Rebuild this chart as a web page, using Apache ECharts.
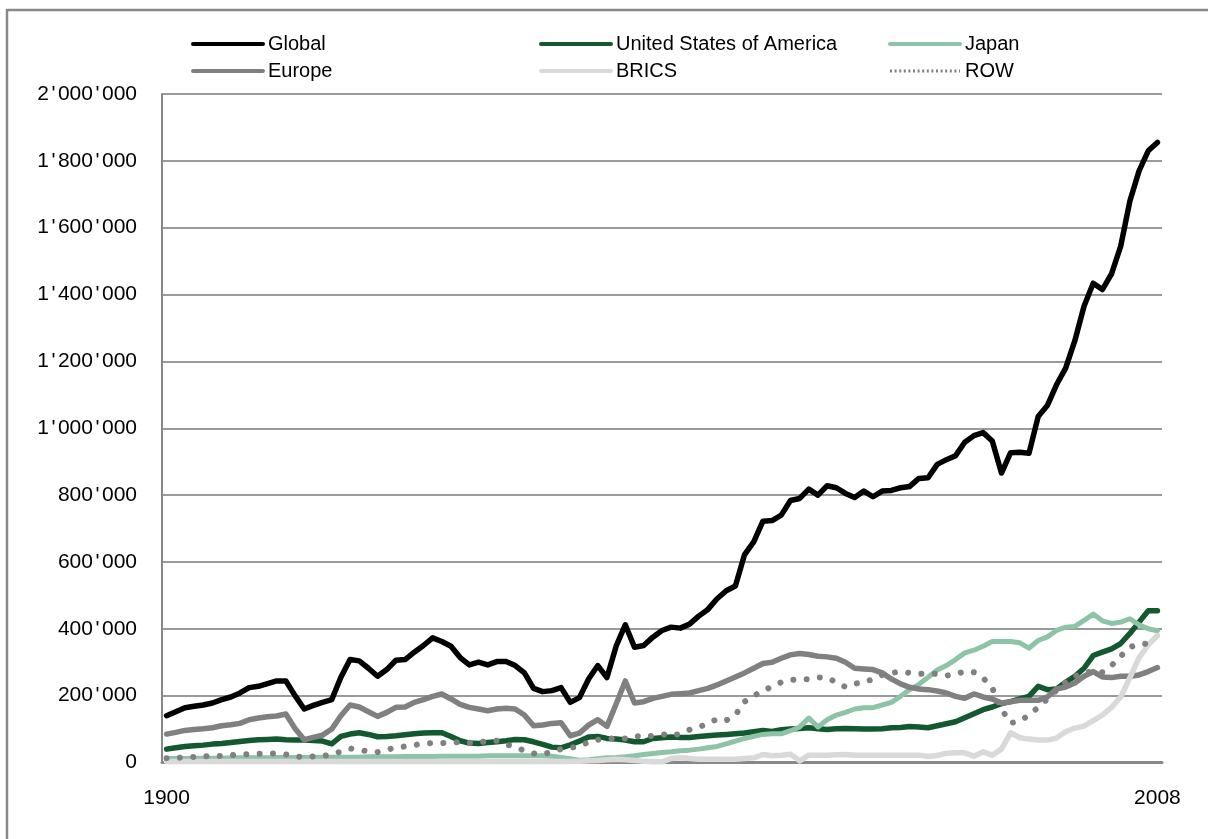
<!DOCTYPE html>
<html>
<head>
<meta charset="utf-8">
<script src="https://cdn.jsdelivr.net/npm/echarts@6/dist/echarts.min.js"></script>
<style>
html,body{margin:0;padding:0;background:#fff;}
#chart{width:1208px;height:839px;}
</style>
</head>
<body>
<div id="chart"></div>
<script>
// Years 1900..2008 (category labels)
const startYear = 1900, endYear = 2008;
const years = [];
for (let y = startYear; y <= endYear; y++) years.push(String(y));

// Values in thousands
const globalVals = [140,152,164,168,172,178,188,196,208,224,
  228,236,244,244,200,160,171,180,188,255,
  308,304,282,258,278,306,308,330,350,373,
  362,348,314,292,300,292,302,302,290,268,
  222,212,215,224,180,194,250,290,254,348,
  412,345,350,375,395,405,402,414,438,458,
  490,514,528,622,660,722,724,740,784,790,
  818,800,828,822,805,793,812,795,812,814,
  822,826,850,852,892,906,918,958,978,987,
  962,866,927,928,925,1035,1068,1130,1180,1262,
  1365,1434,1415,1462,1545,1680,1770,1830,1855];

const usaVals = [40,44,48,50,52,55,57,60,63,66,
  68,69,70,68,67,67,66,64,56,78,
  85,89,84,77,78,80,83,86,88,89,
  89,78,65,58,57,60,62,65,69,68,
  62,54,46,44,53,64,76,78,72,70,
  67,62,62,72,74,76,75,75,78,80,
  82,84,86,88,92,96,93,98,100,102,
  104,101,99,101,102,101,100,100,101,104,
  105,108,106,104,110,116,122,134,146,158,
  166,176,182,190,198,228,218,220,240,258,
  282,320,330,340,356,386,420,454,454];

const japanVals = [12,12,12,13,13,13,13,14,14,14,
  14,14,15,15,15,15,15,16,16,16,
  16,16,17,17,17,17,18,18,18,18,
  19,19,19,19,19,20,20,20,20,20,
  20,20,19,15,11,7,8,11,14,15,
  17,20,24,27,30,32,35,37,40,44,
  48,56,64,72,78,84,86,86,95,106,
  133,106,128,142,150,160,164,164,172,180,
  198,218,234,255,277,290,308,328,336,348,
  362,362,362,358,342,365,376,395,405,407,
  425,444,424,416,420,430,412,400,394];

const europeVals = [85,90,96,99,101,104,110,113,117,128,
  133,137,139,145,102,68,75,82,100,140,
  172,166,152,138,150,165,166,180,188,198,
  205,190,174,165,160,155,160,162,160,142,
  110,112,117,119,80,88,112,128,108,175,
  244,178,182,192,198,204,206,208,215,222,
  232,244,256,268,282,296,300,312,322,326,
  323,318,316,312,300,282,280,278,268,250,
  235,225,220,218,214,208,198,192,205,196,
  190,178,182,186,186,186,196,220,226,238,
  258,272,256,254,258,258,262,272,284];

const bricsVals = [3,3,3,3,3,3,3,3,3,3,
  3,3,3,3,3,3,3,3,3,3,
  3,3,3,3,3,3,3,3,3,3,
  3,3,3,3,3,3,3,3,3,3,
  3,3,3,3,3,4,5,6,8,10,
  8,6,4,2,2,12,14,12,10,10,
  10,10,10,12,14,24,20,22,25,5,
  22,22,22,23,24,22,22,22,22,22,
  22,22,22,18,21,28,29,29,19,32,
  22,40,89,74,70,67,67,73,92,103,
  109,125,142,165,196,254,314,352,380];

const rowVals = [13,14,15,17,18,19,20,22,24,25,
  26,27,27,24,18,16,18,20,23,33,
  42,38,33,31,38,45,48,52,57,58,
  58,60,61,59,61,63,65,54,47,35,
  27,24,32,40,44,48,62,68,72,72,
  72,80,76,80,85,80,86,98,106,116,
  130,126,142,182,199,216,226,240,247,249,
  249,254,254,240,226,236,239,250,262,268,
  272,268,265,266,265,260,264,273,270,253,
  223,160,118,124,142,165,190,216,240,258,
  270,272,270,290,318,345,354,356,360];

const UNIT = 1000;
const yTicks = { min: 0, max: 2000000, interval: 200000 };

function fmt(v) {
  return String(v).replace(/\B(?=(\d{3})+(?!\d))/g, "{q|'}");
}

const FONT = "'Liberation Sans', Arial, sans-serif";

function mk(name, vals, color, width, extra) {
  return Object.assign({
    name: name,
    type: 'line',
    data: vals.map(v => v * UNIT),
    symbol: 'none',
    showSymbol: false,
    smooth: false,
    animation: false,
    lineStyle: { color: color, width: width, join: 'round', cap: 'round' },
    itemStyle: { color: color }
  }, extra || {});
}

const series = [
  mk('Global', globalVals, '#000000', 5.5),
  mk('United States of America', usaVals, '#13592f', 5.5),
  mk('Japan', japanVals, '#8dc3a6', 5),
  mk('Europe', europeVals, '#808080', 5.5),
  mk('BRICS', bricsVals, '#d9d9d9', 5.5),
  mk('ROW', rowVals, '#808080', 6, {
    lineStyle: { color: '#808080', width: 6, type: [0.01, 13.3], cap: 'round' }
  })
];

function legendAt(left, names) {
  return {
    orient: 'vertical',
    left: left,
    top: 33,
    itemWidth: 70,
    itemHeight: 14,
    itemGap: 5,
    padding: 0,
    selectedMode: false,
    itemStyle: { opacity: 0 },
    lineStyle: { width: 4 },
    textStyle: { fontFamily: FONT, fontSize: 20, color: '#000', lineHeight: 22 },
    data: names.map(n => n === 'ROW'
      ? { name: n, itemStyle: { opacity: 0 }, lineStyle: { width: 3, type: [2, 2.6], cap: 'butt', color: '#808080' } }
      : { name: n, itemStyle: { opacity: 0 } })
  };
}

const chart = echarts.init(document.getElementById('chart'), null, { renderer: 'canvas' });
chart.setOption({
  animation: false,
  backgroundColor: '#ffffff',
  graphic: [{
    type: 'rect',
    shape: { x: 7, y: 10, width: 1400, height: 1000 },
    style: { fill: 'none', stroke: '#888888', lineWidth: 2.5 },
    silent: true,
    z: 0
  }],
  legend: [
    legendAt(191, ['Global', 'Europe']),
    legendAt(539, ['United States of America', 'BRICS']),
    legendAt(888, ['Japan', 'ROW'])
  ],
  grid: { left: 162, right: 46, top: 94, bottom: 76.5, containLabel: false },
  xAxis: {
    type: 'category',
    data: years,
    boundaryGap: true,
    axisLine: { show: true, lineStyle: { color: '#888888', width: 3 } },
    axisTick: { show: false },
    splitLine: { show: false },
    axisLabel: {
      interval: (i) => i === 0 || i === years.length - 1,
      fontFamily: FONT, fontSize: 21, color: '#000', margin: 25
    }
  },
  yAxis: {
    type: 'value',
    min: yTicks.min, max: yTicks.max, interval: yTicks.interval,
    axisLine: { show: true, lineStyle: { color: '#888888', width: 2 } },
    axisTick: { show: false },
    splitLine: { show: true, lineStyle: { color: '#9a9a9a', width: 2 } },
    axisLabel: {
      formatter: fmt,
      fontFamily: FONT, fontSize: 21, color: '#000', margin: 25,
      rich: {
        q: { fontFamily: FONT, fontSize: 21, color: '#000', padding: [0, 2.5, 0, 2.5] }
      }
    }
  },
  series: series
});
</script>
</body>
</html>
